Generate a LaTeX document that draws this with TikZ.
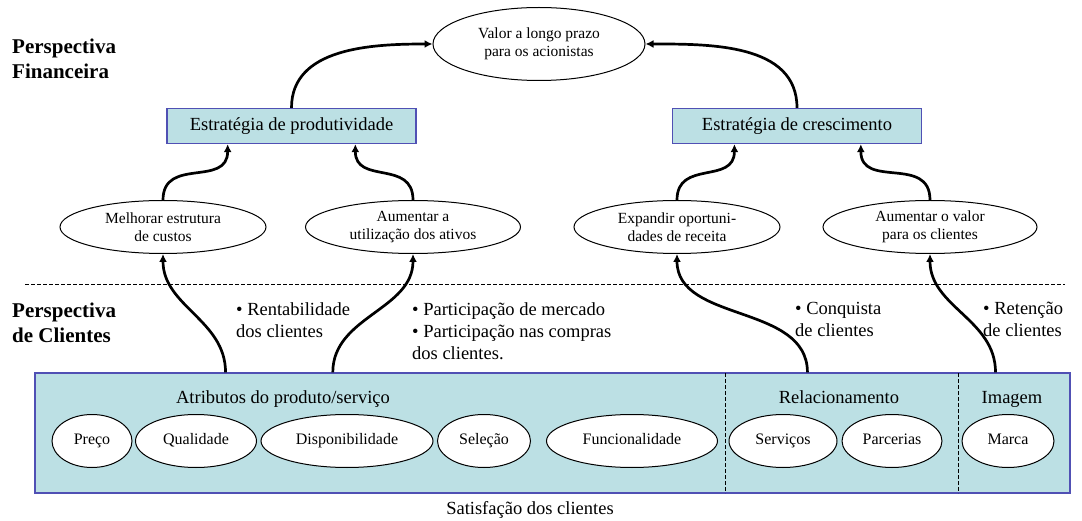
\documentclass[tikz,border=0pt]{standalone}
\usepackage{fontspec}
\setmainfont{Liberation Serif}
\usetikzlibrary{shapes.geometric,arrows.meta,calc}
\definecolor{boxfill}{RGB}{188,224,228}
\definecolor{boxdraw}{RGB}{80,80,180}
\begin{document}
\begin{tikzpicture}[x=1pt,y=-1pt,
  ell/.style={ellipse,draw=black,line width=1pt,fill=white,inner sep=0pt,align=center,
    font=\fontsize{15.5}{18}\selectfont},
  strat/.style={rectangle,draw=boxdraw,line width=1.3pt,fill=boxfill,minimum width=249pt,
    minimum height=35pt,inner sep=0pt,text height=12.5pt,text depth=4pt,
    font=\fontsize{18.5}{22}\selectfont},
  conn/.style={line width=2.7pt,-{Latex[length=8pt,width=8pt]}},
  persp/.style={anchor=north west,align=left,inner sep=0pt,
    font=\fontsize{21}{25}\bfseries\selectfont},
  note/.style={anchor=north west,align=left,inner sep=0pt,font=\fontsize{18.5}{22}\selectfont},
  attr/.style={ellipse,draw=black,line width=1pt,fill=white,inner sep=0pt,minimum height=53pt,
    text height=11pt,text depth=3.5pt,font=\fontsize{16}{18}\selectfont},
  head/.style={inner sep=0pt,text height=12.5pt,text depth=4pt,font=\fontsize{18.5}{22}\selectfont},
  divider/.style={line width=1pt,dash pattern=on 4pt off 2pt}]
\useasboundingbox (0,0) rectangle (1082,521);

% Financial perspective
\node[persp] (pfin) at (12,39) {Perspectiva\\Financeira};
\node[ell,minimum width=212pt,minimum height=73pt] (val) at (539,44) {Valor a longo prazo\\para os acionistas};
\node[strat] (prod) at (291.5,126) {Estratégia de produtividade};
\node[strat] (cresc) at (797,126) {Estratégia de crescimento};
\node[ell,minimum width=206pt,minimum height=53pt] (mel) at (163,227) {Melhorar estrutura\\de custos};
\node[ell,minimum width=215pt,minimum height=53pt] (ati) at (413,227) {Aumentar a\\utilização dos ativos};
\node[ell,minimum width=206pt,minimum height=53pt] (exp) at (677,227) {Expandir oportuni-\\dades de receita};
\node[ell,minimum width=214pt,minimum height=53pt] (valc) at (930,227) {Aumentar o valor\\para os clientes};

% separator
\draw[divider] (25,285) -- (1065,285);

% Customer perspective
\node[persp] (pcli) at (12,303) {Perspectiva\\de Clientes};
\node[note] (rent) at (236,302) {• Rentabilidade\\dos clientes};
\node[note] (part) at (412,302) {• Participação de mercado\\• Participação nas compras\\dos clientes.};
\node[note] (conq) at (795,302) {• Conquista\\de clientes};
\node[note] (ret) at (983,302) {• Retenção\\de clientes};

\node[rectangle,draw=boxdraw,fill=boxfill,line width=1.3pt,minimum width=1035pt,
  minimum height=120pt,inner sep=0pt] (cli) at (552.5,433) {};
\draw[divider] (725,373) -- (725,493);
\draw[divider] (958,373) -- (958,493);

\node[head] (hattr) at (283,399) {Atributos do produto/serviço};
\node[head] (hrel) at (839,399) {Relacionamento};
\node[head] (himg) at (1012,399) {Imagem};

\node[attr,minimum width=80pt] (preco) at (92,441) {Preço};
\node[attr,minimum width=121pt] (qual) at (196,441) {Qualidade};
\node[attr,minimum width=172pt] (disp) at (347,441) {Disponibilidade};
\node[attr,minimum width=93pt] (sel) at (484,441) {Seleção};
\node[attr,minimum width=171pt] (func) at (632,441) {Funcionalidade};
\node[attr,minimum width=108pt] (serv) at (783,441) {Serviços};
\node[attr,minimum width=100pt] (parc) at (892,441) {Parcerias};
\node[attr,minimum width=92pt] (marca) at (1008,441) {Marca};

\node[head] (sat) at (530,510) {Satisfação dos clientes};

% connector end points on the boxes
\coordinate (p1) at ($(prod.south west)!0.245!(prod.south east)$);
\coordinate (p2) at ($(prod.south west)!0.755!(prod.south east)$);
\coordinate (g1) at ($(cresc.south west)!0.25!(cresc.south east)$);
\coordinate (g2) at ($(cresc.south west)!0.755!(cresc.south east)$);
\coordinate (c1) at ($(cli.north west)!0.1845!(cli.north east)$);
\coordinate (c2) at ($(cli.north west)!0.288!(cli.north east)$);
\coordinate (c3) at ($(cli.north west)!0.746!(cli.north east)$);
\coordinate (c4) at ($(cli.north west)!0.9275!(cli.north east)$);

% connectors
\draw[conn] (prod.north) to[out=90,in=180] (val.west);
\draw[conn] (cresc.north) to[out=90,in=0] (val.east);
\draw[conn] (mel.north) to[out=90,in=-90,looseness=1.3] (p1);
\draw[conn] (ati.north) to[out=90,in=-90,looseness=1.3] (p2);
\draw[conn] (exp.north) to[out=90,in=-90,looseness=1.3] (g1);
\draw[conn] (valc.north) to[out=90,in=-90,looseness=1.3] (g2);
\draw[conn] (c1) to[out=90,in=-90] (mel.south);
\draw[conn] (c2) to[out=90,in=-90] (ati.south);
\draw[conn] (c3) to[out=90,in=-90] (exp.south);
\draw[conn] (c4) to[out=90,in=-90] (valc.south);
\end{tikzpicture}
\end{document}
